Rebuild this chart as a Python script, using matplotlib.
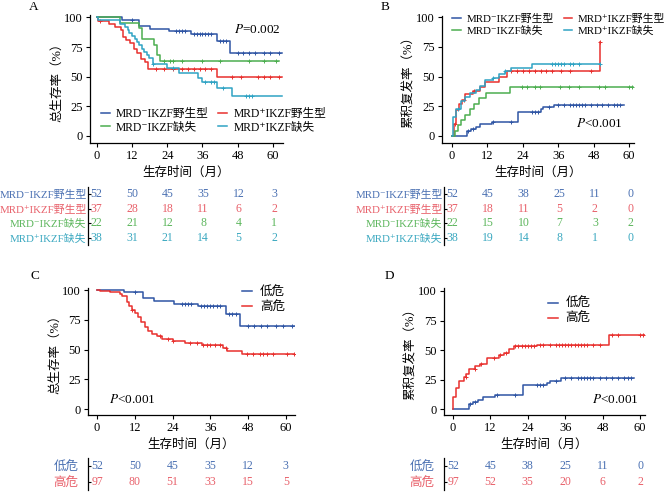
import numpy as np
import matplotlib
matplotlib.use('Agg')
from matplotlib import pyplot as plt

plt.rcParams['font.family'] = ['Liberation Serif', 'Noto Sans CJK SC', 'DejaVu Sans']
plt.rcParams['mathtext.fontset'] = 'stix'
plt.rcParams['axes.unicode_minus'] = False

# colours
cBlue, cRed, cGreen, cCyan = '#2f55a4', '#e8302e', '#4cae4f', '#2fa3c4'
tBlue, tRed, tGreen, tCyan = '#4a70b2', '#e8606a', '#5cb65c', '#3aa8c0'

groupNames = ['MRD⁻IKZF野生型', 'MRD⁺IKZF野生型', 'MRD⁻IKZF缺失', 'MRD⁺IKZF缺失']
riskNames = ['低危', '高危']
tableTimes = [0, 12, 24, 36, 48, 60]

# ---- A: overall survival by MRD / IKZF ----
osNegWtT = [0, 8.5, 14.5, 18, 24.5, 32, 41, 45.5]
osNegWtS = [100, 98, 93, 90.5, 88.5, 86.3, 80, 70]
osNegWtCens = [12, 27, 28, 29, 30, 33, 34, 35, 36, 37, 38, 39, 42, 43, 44,
               48, 50, 52, 54, 57, 59, 62]

osPosWtT = [0, 0.5, 4, 6, 8.3, 9, 10, 11.3, 12.5, 13.5, 15, 16.3, 17.5, 41]
osPosWtS = [100, 97.3, 94.6, 91.9, 89.2, 83.8, 81.1, 78.4, 73, 70.3, 64.9,
            62.2, 56.8, 49.7]
osPosWtCens = [1, 20, 23, 26, 29, 31, 33, 35, 37, 39, 46, 49, 55, 57, 59, 62]

osNegDelT = [0, 8, 14.5, 15.5, 19.5, 20.5, 21.5]
osNegDelS = [100, 95.5, 91, 82, 77, 68, 63.6]
osNegDelCens = [23, 25, 26, 29, 36, 42, 52, 57, 61]

osPosDelT = [0, 0.5, 8, 9.5, 10.5, 11, 12, 13, 13.8, 14.5, 15.5, 16, 17,
             17.8, 19, 24, 28, 34.5, 36, 41, 46]
osPosDelS = [100, 97.4, 94.7, 92.1, 89.5, 86.8, 84.2, 81.6, 78.9, 76.3, 73.7,
             71.1, 68.4, 65.8, 61, 57, 52.7, 48.5, 45.6, 40, 33.3]
osPosDelCens = [19, 26, 37, 39, 40, 43, 51, 52, 53]

riskA = [[52, 50, 45, 35, 12, 3],
         [37, 28, 18, 11, 6, 2],
         [22, 21, 12, 8, 4, 1],
         [38, 31, 21, 14, 5, 2]]

# ---- B: cumulative relapse by MRD / IKZF ----
cirNegWtT = [0, 5, 6.5, 8, 9.5, 13.5, 22.5, 30, 31, 34.5]
cirNegWtV = [0, 4.5, 6, 7.7, 10, 12, 20.4, 22.4, 24, 26]
cirNegWtCens = [5.5, 7, 14, 20, 27, 28, 29, 33, 36, 38, 40, 41, 42, 43, 44,
                45, 47, 49, 51, 53, 55, 56, 57]

cirPosWtT = [0, 0.5, 1.5, 2.5, 3.3, 4.5, 7, 9.5, 11, 16, 18.5, 50]
cirPosWtV = [0, 10, 21.6, 27, 30, 35, 38, 41, 45, 50, 55, 79]
cirPosWtCens = [1, 4, 7.5, 20, 22, 24, 26, 28, 30, 32, 34, 37, 40, 47, 50]

cirNegDelT = [0, 1, 2, 3, 4.5, 6, 7.5, 9, 11.5, 19.5]
cirNegDelV = [0, 4.5, 9, 13.6, 18, 22.7, 27, 31.8, 36.4, 41]
cirNegDelCens = [23.7, 25.4, 28, 29.8, 36.6, 39.7, 43, 49.8, 52, 60, 61]

cirPosDelT = [0, 0.3, 1.5, 3, 4.5, 6, 8, 9.5, 11, 14, 16, 18, 20, 27]
cirPosDelV = [0, 16, 23, 29, 33, 36, 38.5, 42, 47.5, 49, 52, 54.5, 57, 60.5]
cirPosDelCens = [2, 14, 18, 34, 35, 36, 37, 38, 40, 41, 43, 50]

riskB = [[52, 45, 38, 25, 11, 0],
         [37, 18, 11, 5, 2, 0],
         [22, 15, 10, 7, 3, 2],
         [38, 19, 14, 8, 1, 0]]

# ---- C: overall survival by risk ----
osHighT = [0, 1, 4, 7.3, 8, 9.4, 10, 11, 12, 13, 14, 15.2, 16.2, 17.4, 18.9,
           20.5, 24, 28, 33.5, 40, 41.2, 46]
osHighS = [100, 99, 98, 96.9, 94.8, 89.7, 86.6, 83.5, 80.4, 77.3, 73.2, 69.1,
           66, 63.3, 61, 59, 57.6, 55.6, 53.4, 51.2, 48.5, 45.9]
osHighCens = [11, 20, 22.5, 24, 29.5, 31.7, 33.7, 35, 36, 37.5, 39, 41, 47.6,
              49.5, 51.7, 52.7, 54, 56, 60.3, 62.5]

riskC = [[52, 50, 45, 35, 12, 3],
         [97, 80, 51, 33, 15, 5]]

# ---- D: cumulative relapse by risk ----
cirHighT = [0, 0.05, 1, 1.8, 3.4, 4.2, 5, 7.2, 8.8, 10.9, 14.7, 16.3, 17.9,
            19.5, 27, 50]
cirHighV = [0, 10, 17.5, 23.7, 27.4, 30, 33.6, 36.4, 38, 43.5, 45.8, 47.7,
            50.6, 53, 54.6, 62.7]
cirHighCens = [4, 7, 9, 13, 15, 17, 20, 21, 22, 23, 24, 25, 26, 28, 29, 31,
               33, 34, 35, 36, 37, 38, 39, 40, 41, 42, 43, 45, 47, 51, 53,
               60, 61]

riskD = [[52, 45, 38, 25, 11, 0],
         [97, 52, 35, 20, 6, 2]]


def valueAt(times, vals, t):
    idx = np.searchsorted(times, t, side='right') - 1
    return np.asarray(vals)[idx]


def drawCurve(ax, times, vals, end, cens, color, label=None):
    x = list(times) + [end]
    y = list(vals) + [vals[-1]]
    ax.step(x, y, where='post', color=color, lw=1.1, label=label)
    ax.plot(cens, valueAt(times, vals, cens), '+', color=color, ms=3.5,
            mew=0.7, ls='none')


def styleAxes(ax, xlim, ylim, ylabel):
    ax.set_xlim(*xlim)
    ax.set_ylim(*ylim)
    ax.set_xticks(tableTimes)
    ax.set_yticks([0, 25, 50, 75, 100])
    for s in ['top', 'right']:
        ax.spines[s].set_visible(False)
    for s in ['left', 'bottom']:
        ax.spines[s].set_linewidth(0.9)
    ax.tick_params(labelsize=9, length=3, width=0.8, pad=2)
    ax.set_xlabel('生存时间（月）', fontsize=9, labelpad=3)
    ax.set_ylabel(ylabel, fontsize=9, labelpad=1)


def riskTable(rect, xlim, rows, names, numColors, pad, labelSize):
    ax = fig.add_axes(rect)
    ax.set_xlim(*xlim)
    ax.set_ylim(len(rows) - 0.5, -0.5)
    for s in ['top', 'right', 'bottom']:
        ax.spines[s].set_visible(False)
    ax.spines['left'].set_linewidth(0.9)
    ax.set_xticks([])
    ax.set_yticks(range(len(rows)))
    ax.set_yticklabels(names, fontsize=labelSize)
    ax.tick_params(axis='y', direction='in', length=2, width=0.8, pad=pad)
    for lab, c in zip(ax.get_yticklabels(), numColors):
        lab.set_color(c)
    for i, row in enumerate(rows):
        for t, n in zip(tableTimes, row):
            ax.text(t, i, str(n), color=numColors[i], fontsize=8.5,
                    ha='center', va='center')
    return ax


fig = plt.figure(figsize=(6.64, 4.92), dpi=100)

xlimA, xlimB, xlimC, xlimD = (-2.4, 63.5), (-3.4, 61.7), (-2.9, 62.9), (-2.9, 61.6)
order = [0, 2, 1, 3]

# panel A
axA = fig.add_axes([0.1355, 0.7093, 0.2907, 0.2602])
drawCurve(axA, osNegWtT, osNegWtS, 63, osNegWtCens, cBlue, groupNames[0])
drawCurve(axA, osPosWtT, osPosWtS, 63, osPosWtCens, cRed, groupNames[1])
drawCurve(axA, osNegDelT, osNegDelS, 62, osNegDelCens, cGreen, groupNames[2])
drawCurve(axA, osPosDelT, osPosDelS, 63, osPosDelCens, cCyan, groupNames[3])
styleAxes(axA, xlimA, (-6, 102), '总生存率（%）')
h, l = axA.get_legend_handles_labels()
axA.legend([h[i] for i in order], [l[i] for i in order], loc='lower left',
           bbox_to_anchor=(0.02, 0.02), ncol=2, frameon=False, fontsize=8.4,
           handlelength=0.8, handletextpad=0.5, columnspacing=0.8,
           labelspacing=0.15, borderaxespad=0.2)
axA.text(0.99, 0.89, '$P$=0.002', transform=axA.transAxes, ha='right',
         va='center', fontsize=9.5)

# panel B
axB = fig.add_axes([0.6657, 0.7093, 0.2892, 0.2581])
drawCurve(axB, cirNegWtT, cirNegWtV, 58.2, cirNegWtCens, cBlue, groupNames[0])
drawCurve(axB, cirPosWtT, cirPosWtV, 50, cirPosWtCens, cRed, groupNames[1])
drawCurve(axB, cirNegDelT, cirNegDelV, 61.2, cirNegDelCens, cGreen, groupNames[2])
drawCurve(axB, cirPosDelT, cirPosDelV, 50, cirPosDelCens, cCyan, groupNames[3])
styleAxes(axB, xlimB, (-6, 101), '累积复发率（%）')
h, l = axB.get_legend_handles_labels()
axB.legend([h[i] for i in order], [l[i] for i in order], loc='upper left',
           bbox_to_anchor=(0.02, 1.07), ncol=2, frameon=False, fontsize=7.8,
           handlelength=0.8, handletextpad=0.5, columnspacing=0.9,
           labelspacing=0.2, borderaxespad=0.2)
axB.text(0.94, 0.15, '$P$<0.001', transform=axB.transAxes, ha='right',
         va='center', fontsize=9.5)

# panel C
axC = fig.add_axes([0.1325, 0.1565, 0.3117, 0.2581])
drawCurve(axC, osNegWtT, osNegWtS, 63, osNegWtCens, cBlue, riskNames[0])
drawCurve(axC, osHighT, osHighS, 63, osHighCens, cRed, riskNames[1])
styleAxes(axC, xlimC, (-5, 101.7), '总生存率（%）')
axC.legend(loc='upper left', bbox_to_anchor=(0.71, 1.07), frameon=False,
           fontsize=9, handlelength=0.8, handletextpad=0.6,
           labelspacing=0.25, borderaxespad=0.2)
axC.text(0.1, 0.12, '$P$<0.001', transform=axC.transAxes, ha='left',
         va='center', fontsize=9.5)

# panel D
axD = fig.add_axes([0.6687, 0.1565, 0.3027, 0.2581])
drawCurve(axD, cirNegWtT, cirNegWtV, 58.2, cirNegWtCens, cBlue, riskNames[0])
drawCurve(axD, cirHighT, cirHighV, 61.6, cirHighCens, cRed, riskNames[1])
styleAxes(axD, xlimD, (-5, 102.5), '累积复发率（%）')
axD.legend(loc='upper left', bbox_to_anchor=(0.48, 0.98), frameon=False,
           fontsize=9, handlelength=0.8, handletextpad=0.6,
           labelspacing=0.25, borderaxespad=0.2)
axD.text(0.97, 0.12, '$P$<0.001', transform=axD.transAxes, ha='right',
         va='center', fontsize=9.5)

# risk tables
colsGroup = [tBlue, tRed, tGreen, tCyan]
colsRisk = [tBlue, tRed]
riskTable([0.1325, 0.502, 0.2937, 0.1179], (-2.9, 63.0), riskA, groupNames, colsGroup, 1, 7.8)
riskTable([0.6687, 0.502, 0.2862, 0.1179], (-2.9, 61.2), riskB, groupNames, colsGroup, 1, 7.8)
riskTable([0.1325, 0.004, 0.3117, 0.065], xlimC, riskC, riskNames, colsRisk, 7, 9)
riskTable([0.6687, 0.004, 0.3027, 0.065], xlimD, riskD, riskNames, colsRisk, 7, 9)

# panel letters
for letter, x, y in [('A', 0.05, 0.985), ('B', 0.58, 0.985),
                     ('C', 0.053, 0.44), ('D', 0.586, 0.44)]:
    fig.text(x, y, letter, fontsize=9.5, ha='center', va='center')

fig.savefig('out.png', dpi=100)
